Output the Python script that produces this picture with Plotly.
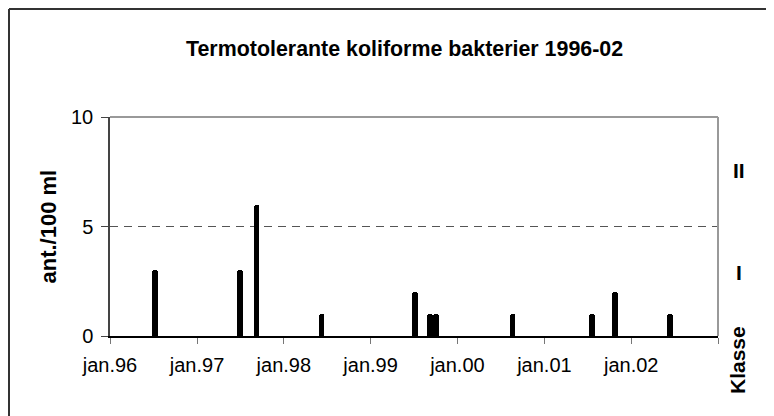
import plotly.graph_objects as go

# ---- data ----
sample_dates = ["1996-07-08", "1997-07-02", "1997-09-08", "1998-06-08", "1999-07-06",
                "1999-09-07", "1999-10-03", "2000-08-20", "2001-07-19", "2001-10-25",
                "2002-06-13"]
counts = [3, 3, 6, 1, 2, 1, 1, 1, 1, 2, 1]
tick_dates = ["1996-01-01", "1997-01-01", "1998-01-01", "1999-01-01", "2000-01-01",
              "2001-01-01", "2002-01-01", "2003-01-01"]
tick_labels = ["jan.96", "jan.97", "jan.98", "jan.99", "jan.00", "jan.01", "jan.02", ""]
limit_value = 5
class_labels = ["II", "I"]
class_positions = [7.55, 2.9]

FONT = "Liberation Sans, Arial, sans-serif"
L, R, T, B = 102, 64, 109, 88
W, H = 774, 416
PW, PH = W - L - R, H - T - B

def px_x(p):
    return (p - L) / PW

def px_y(p):
    return (H - B - p) / PH

fig = go.Figure()
fig.add_trace(go.Bar(
    x=sample_dates, y=counts,
    width=24 * 86400000,
    marker=dict(color="black", line=dict(width=0), cornerradius=3),
    showlegend=False,
))

shapes = [
    dict(type="line", xref="paper", yref="y", x0=0, x1=1, y0=limit_value, y1=limit_value,
         line=dict(color="#555555", width=1, dash="8px,6px"), layer="below"),
    dict(type="line", xref="paper", yref="paper", x0=0, x1=1, y0=1, y1=1,
         line=dict(color="#999999", width=2)),
    dict(type="line", xref="paper", yref="paper", x0=1, x1=1, y0=0, y1=1,
         line=dict(color="#999999", width=2)),
    dict(type="line", xref="paper", yref="paper", x0=px_x(1), x1=px_x(1), y0=px_y(1), y1=px_y(430),
         line=dict(color="#333333", width=2)),
    dict(type="line", xref="paper", yref="paper", x0=px_x(1), x1=px_x(790), y0=px_y(1), y1=px_y(1),
         line=dict(color="#333333", width=2)),
]

annotations = [
    dict(text="<b>Termotolerante koliforme bakterier 1996-02</b>", xref="paper", yref="paper",
         x=px_x(396), y=px_y(41), showarrow=False, font=dict(size=21.4, family=FONT, color="black"),
         xanchor="center", yanchor="middle"),
    dict(text="<b>ant./100 ml</b>", xref="paper", yref="paper", x=px_x(40), y=0.5,
         textangle=-90, showarrow=False, font=dict(size=22, family=FONT, color="black"),
         xanchor="center", yanchor="middle"),
    dict(text="<b>Klasse</b>", xref="paper", yref="paper", x=px_x(729), y=px_y(352),
         textangle=-90, showarrow=False, font=dict(size=21, family=FONT, color="black"),
         xanchor="center", yanchor="middle"),
]
for lab, pos in zip(class_labels, class_positions):
    annotations.append(dict(text="<b>" + lab + "</b>", xref="paper", yref="y", x=px_x(731), y=pos,
                            showarrow=False, font=dict(size=21, family=FONT, color="black"),
                            xanchor="center", yanchor="middle"))

fig.update_layout(
    width=W, height=H, autosize=False,
    margin=dict(l=L, r=R, t=T, b=B),
    paper_bgcolor="white", plot_bgcolor="white",
    font=dict(family=FONT, size=20, color="black"),
    shapes=shapes, annotations=annotations,
    bargap=0,
    xaxis=dict(type="date", range=["1996-01-01", "2003-01-01"],
               tickvals=tick_dates, ticktext=tick_labels,
               showline=True, linecolor="black", linewidth=1.5,
               ticks="outside", ticklen=6, tickcolor="#777777", tickwidth=1,
               ticklabelstandoff=4,
               showgrid=False, zeroline=False, tickfont=dict(size=20)),
    yaxis=dict(range=[0, 10], tickvals=[0, 5, 10],
               showline=True, linecolor="#444444", linewidth=1.5,
               ticks="outside", ticklen=7, tickcolor="#444444",
               ticklabelstandoff=4,
               showgrid=False, zeroline=False, tickfont=dict(size=20)),
)

fig.write_html("out.html")
